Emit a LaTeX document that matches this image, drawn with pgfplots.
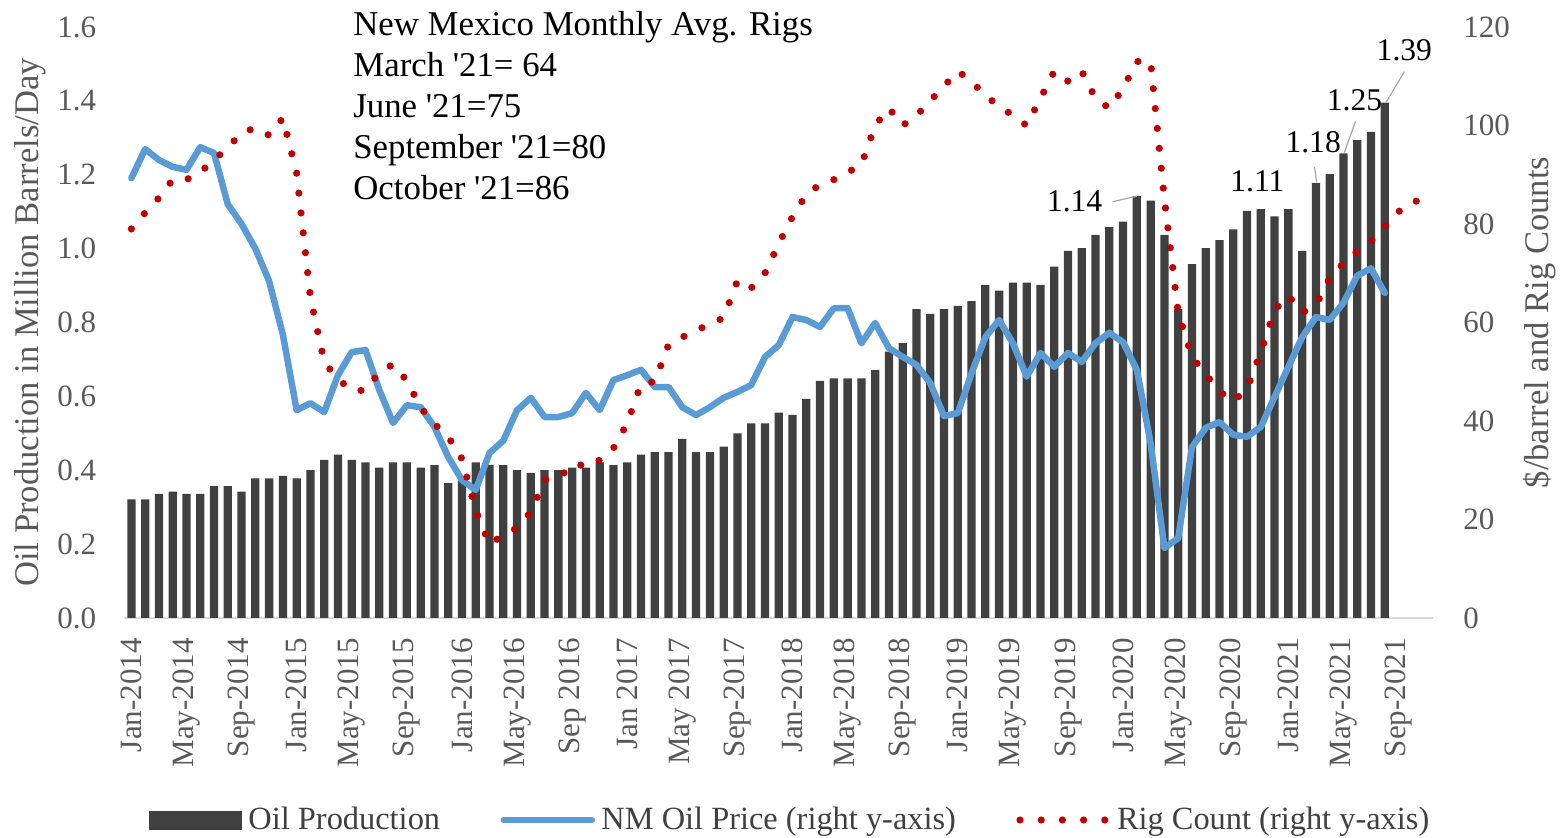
\documentclass[border=0pt]{standalone}
\usepackage{pgfplots}
\pgfplotsset{compat=1.18}
\usepackage{fontspec}
\setmainfont{Liberation Serif}
\definecolor{barc}{HTML}{404040}
\definecolor{pricec}{HTML}{5B9BD5}
\definecolor{rigc}{HTML}{C00000}
\definecolor{tickc}{HTML}{595959}
\definecolor{axc}{HTML}{D9D9D9}
\definecolor{legc}{HTML}{404040}
\definecolor{leadc}{HTML}{A6A6A6}
\begin{document}
\begin{tikzpicture}
\useasboundingbox (-62.25pt,-110pt) rectangle (718.75pt,309pt);
\pgfplotsset{
  base/.style={
    scale only axis, width=654.25pt, height=295.5pt,
    at={(0pt,0pt)}, anchor=south west,
    xmin=-0.5, xmax=94.5, ymin=0,
    enlargelimits=false,
    major tick length=0pt,
    tick style={draw=none},
    ticklabel style={font=\fontsize{15.5}{18}\selectfont, text=tickc},
    /pgf/number format/assume math mode=true,
  }
}
\begin{axis}[base,
  ymax=1.6,
  axis x line*=bottom, axis y line*=left,
  x axis line style={draw=axc, line width=1pt, -},
  y axis line style={draw=none},
  xtick={0,4,...,92},
  xticklabels={Jan-2014,May-2014,Sep-2014,Jan-2015,May-2015,Sep-2015,Jan-2016,May-2016,Sep 2016,Jan 2017,May 2017,Sep-2017,Jan-2018,May-2018,Sep-2018,Jan-2019,May-2019,Sep-2019,Jan-2020,May-2020,Sep-2020,Jan-2021,May-2021,Sep-2021},
  xticklabel style={rotate=90, anchor=east, inner sep=0pt},
  xticklabel shift=10pt,
  ytick={0,0.2,0.4,0.6,0.8,1.0,1.2,1.4,1.6},
  yticklabel style={/pgf/number format/fixed, /pgf/number format/fixed zerofill, /pgf/number format/precision=1, inner sep=0pt, anchor=east},
  yticklabel shift=14pt,
  ylabel={Oil Production in Million Barrels/Day},
  every axis y label/.style={at={(axis description cs:-0.0722,0.5)}, rotate=90, anchor=center,
    font=\fontsize{17.3}{20}\selectfont, text=tickc},
  clip=false,
]
\addplot[ybar, bar width=0.6, fill=barc, draw=none] coordinates {
(0,0.321)(1,0.321)(2,0.336)(3,0.342)(4,0.336)(5,0.336)(6,0.357)(7,0.357)(8,0.342)(9,0.378)(10,0.378)(11,0.385)
(12,0.378)(13,0.400)(14,0.428)(15,0.442)(16,0.428)(17,0.421)(18,0.407)(19,0.421)(20,0.421)(21,0.407)(22,0.414)(23,0.365)
(24,0.372)(25,0.421)(26,0.414)(27,0.414)(28,0.400)(29,0.393)(30,0.400)(31,0.400)(32,0.407)(33,0.407)(34,0.421)(35,0.414)
(36,0.421)(37,0.442)(38,0.449)(39,0.449)(40,0.485)(41,0.449)(42,0.449)(43,0.464)(44,0.500)(45,0.527)(46,0.527)(47,0.556)
(48,0.550)(49,0.593)(50,0.642)(51,0.649)(52,0.649)(53,0.649)(54,0.671)(55,0.721)(56,0.744)(57,0.836)(58,0.823)(59,0.836)
(60,0.845)(61,0.858)(62,0.902)(63,0.886)(64,0.908)(65,0.908)(66,0.902)(67,0.951)(68,0.994)(69,1.001)(70,1.037)(71,1.058)
(72,1.073)(73,1.142)(74,1.130)(75,1.037)(76,0.836)(77,0.958)(78,1.001)(79,1.023)(80,1.052)(81,1.102)(82,1.107)(83,1.087)
(84,1.107)(85,0.994)(86,1.178)(87,1.202)(88,1.258)(89,1.294)(90,1.316)(91,1.395)
};
\node[anchor=north west, inner sep=0pt, align=left, font=\fontsize{17.4}{20.5}\selectfont, text=black]
  at (axis description cs:0.1746,1.0274)
  {New Mexico Monthly Avg. Rigs\\March \textquotesingle 21= 64\\June \textquotesingle 21=75\\September \textquotesingle 21=80\\October \textquotesingle 21=86};
\begin{scope}[every node/.style={font=\fontsize{15.8}{18}\selectfont, text=black, inner sep=0pt}]
\node at (axis cs:68.48,1.127) {1.14};
\draw[leadc, line width=0.6pt] (axis cs:71.24,1.127) -- (axis cs:73,1.142);
\node at (axis cs:81.75,1.181) {1.11};
\node at (axis cs:85.8,1.289) {1.18};
\draw[leadc, line width=0.6pt] (axis cs:85.9,1.221) -- (axis cs:86.05,1.180);
\node at (axis cs:88.8,1.402) {1.25};
\draw[leadc, line width=0.6pt] (axis cs:88.87,1.344) -- (axis cs:88.06,1.260);
\node at (axis cs:92.42,1.538) {1.39};
\draw[leadc, line width=0.6pt] (axis cs:92.42,1.479) -- (axis cs:91.1,1.397);
\end{scope}
\end{axis}
\begin{axis}[base,
  ymax=120,
  axis x line=none, axis y line*=right,
  y axis line style={draw=none},
  ytick={0,20,40,60,80,100,120},
  yticklabel style={inner sep=0pt, anchor=west},
  yticklabel shift=15pt,
  ylabel={\$/barrel and Rig Counts},
  every axis y label/.style={at={(axis description cs:1.0818,0.5)}, rotate=90, anchor=center,
    font=\fontsize{17.3}{20}\selectfont, text=tickc},
  legend columns=3,
  legend style={at={(axis description cs:0.5105,-0.3418)}, anchor=center, draw=none, fill=none,
    font=\fontsize{16.2}{18}\selectfont, text=legc,
    /tikz/every even column/.append style={column sep=27pt},
    nodes={inner sep=3.2pt}},
]
\addlegendimage{legend image code/.code={\fill[barc] (0pt,-4.5pt) rectangle (46pt,4.5pt);}}
\addlegendentry{Oil Production}
\addplot[color=pricec, line width=3.25pt, line join=round, line cap=round, mark=none,
  legend image code/.code={\draw[pricec, line width=3.25pt, line cap=round] (1pt,0pt) -- (45pt,0pt);}] coordinates {
(0,89.3)(1,95.2)(2,93)(3,91.6)(4,91)(5,95.6)(6,94.4)(7,84)(8,80)(9,75)(10,68.4)(11,57.5)
(12,42.2)(13,43.6)(14,41.8)(15,49.3)(16,54)(17,54.4)(18,46.3)(19,39.6)(20,43.2)(21,42.8)(22,38.8)(23,32.7)
(24,28)(25,26)(26,33.5)(27,36)(28,42.2)(29,44.7)(30,40.8)(31,40.8)(32,41.6)(33,45.7)(34,42.2)(35,48.3)
(36,49.3)(37,50.4)(38,46.9)(39,46.9)(40,42.8)(41,41.2)(42,42.8)(43,44.7)(44,45.9)(45,47.3)(46,53)(47,55.4)
(48,61.1)(49,60.5)(50,59.1)(51,62.9)(52,62.9)(53,55.8)(54,59.9)(55,54.8)(56,53)(57,51.4)(58,47.7)(59,41)
(60,41.6)(61,49.7)(62,57)(63,60.5)(64,55.8)(65,49)(66,53.8)(67,51)(68,53.8)(69,52)(70,55.8)(71,57.9)
(72,56)(73,50.4)(74,35.5)(75,14.2)(76,16.2)(77,34.7)(78,38.6)(79,39.8)(80,37.2)(81,36.8)(82,38.8)(83,44.9)
(84,51)(85,57)(86,61.1)(87,60.5)(88,64)(89,69.5)(90,71)(91,66)
};
\addlegendentry{NM Oil Price (right y-axis)}
\addplot[color=rigc, line width=3.6pt, line cap=round, dash pattern=on 0pt off 10pt, mark=none,
  legend image code/.code={\draw[rigc, line width=3.6pt, line cap=round, dash pattern=on 0pt off 10.6pt] (1.5pt,0pt) -- (45pt,0pt);}] coordinates {
(0,79)(1,82.3)(2,85.3)(3,89)(4,89)(5,90.5)(6,93)(7,95.5)(8,98.5)(9,99.5)(10,98)(11,101.5)
(12,90.3)(13,65)(14,52)(15,48.5)(16,46.2)(17,46.2)(18,49.9)(19,51.5)(20,48.2)(21,42.7)(22,39.4)(23,36.8)
(24,32.3)(25,21.8)(26,15)(27,16.8)(28,18.3)(29,21.5)(30,28)(31,29.5)(32,29.4)(33,32)(34,32)(35,34.5)
(36,39.5)(37,47.5)(38,48)(39,55.5)(40,57)(41,58.5)(42,59.5)(43,61)(44,68.5)(45,67)(46,70)(47,76)
(48,81.5)(49,86)(50,88)(51,89)(52,90.5)(53,92)(54,100)(55,103.5)(56,100)(57,102)(58,105)(59,108)
(60,111)(61,109)(62,106)(63,104)(64,102)(65,100)(66,105.5)(67,111)(68,109)(69,111)(70,105.5)(71,103.5)
(72,107.5)(73,113)(74,113)(75,85)(76,62)(77,53)(78,49.5)(79,46)(80,44)(81,46.5)(82,54)(83,62.5)
(84,65.5)(85,62)(86,63.5)(87,69)(88,72)(89,74.5)(90,76.5)(91,79.5)(92,82.5)(93,84.5)(93.6,84.8)
};
\addlegendentry{Rig Count (right y-axis)}
\end{axis}
\end{tikzpicture}
\end{document}
